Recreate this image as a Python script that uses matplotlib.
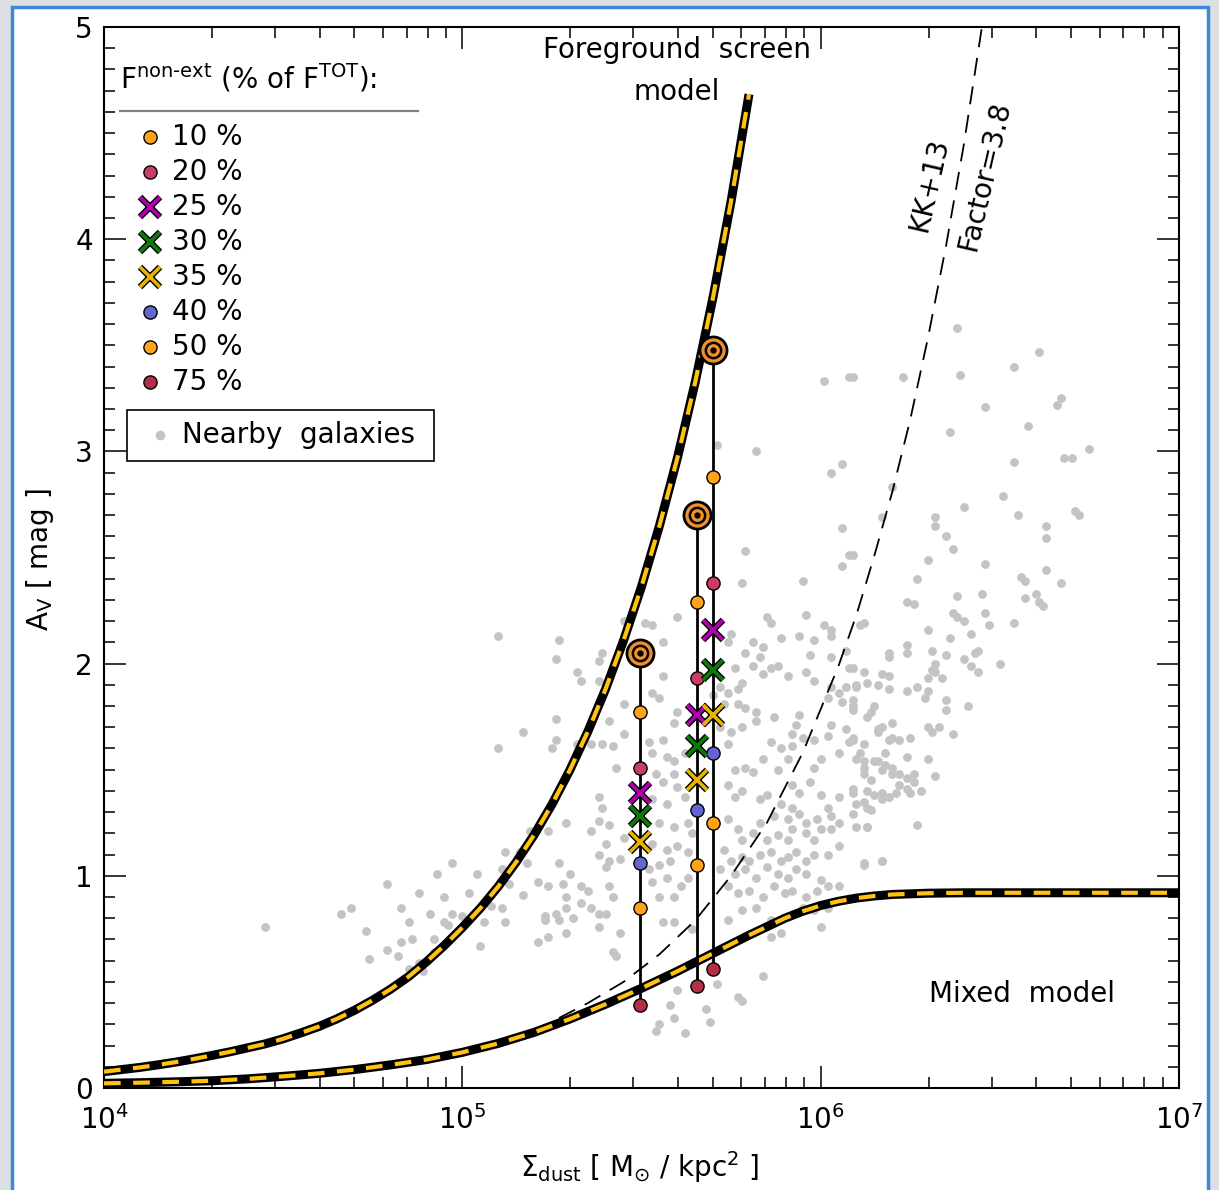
import numpy as np
import matplotlib
matplotlib.use("Agg")
import matplotlib.pyplot as plt
from matplotlib.patches import Rectangle
from matplotlib.ticker import LogLocator, MultipleLocator, NullFormatter

plt.rcParams['font.family'] = ['DejaVu Sans']
plt.rcParams['mathtext.default'] = 'regular'

# model curves, log10(Sigma_dust) vs A_V
screen_logsig = [4.00, 4.05, 4.10, 4.15, 4.20, 4.25, 4.30, 4.35, 4.40, 4.45, 4.50, 4.55,
                 4.60, 4.65, 4.70, 4.75, 4.80, 4.85, 4.90, 4.95, 5.00, 5.05, 5.10, 5.15,
                 5.20, 5.25, 5.30, 5.35, 5.40, 5.45, 5.50, 5.55, 5.60, 5.65, 5.70, 5.75, 5.80]
screen_av = [0.077, 0.087, 0.097, 0.109, 0.122, 0.137, 0.153, 0.170, 0.189, 0.208, 0.232,
             0.260, 0.290, 0.326, 0.367, 0.414, 0.466, 0.525, 0.595, 0.672, 0.756, 0.847,
             0.949, 1.064, 1.192, 1.336, 1.498, 1.679, 1.881, 2.109, 2.363, 2.649, 2.968,
             3.327, 3.729, 4.179, 4.683]

mixed_logsig = [4.0, 4.1, 4.2, 4.3, 4.4, 4.5, 4.6, 4.7, 4.8, 4.9, 5.0, 5.1, 5.2, 5.3, 5.4,
                5.5, 5.6, 5.7, 5.8, 5.9, 5.95, 6.0, 6.05, 6.1, 6.15, 6.2, 6.3, 6.4, 6.6, 7.0]
mixed_av = [0.022, 0.025, 0.029, 0.034, 0.043, 0.055, 0.069, 0.087, 0.109, 0.134, 0.168,
            0.210, 0.262, 0.325, 0.395, 0.470, 0.550, 0.635, 0.720, 0.800, 0.833, 0.860,
            0.880, 0.895, 0.905, 0.912, 0.918, 0.920, 0.920, 0.920]

kk13_logsig = [5.27, 5.35, 5.45, 5.55, 5.65, 5.75, 5.85, 5.95, 6.05, 6.10, 6.15, 6.20,
               6.25, 6.30, 6.35, 6.40, 6.45]
kk13_av = [0.33, 0.40, 0.50, 0.63, 0.79, 1.00, 1.25, 1.58, 1.99, 2.23, 2.51, 2.81,
           3.15, 3.54, 3.97, 4.45, 5.00]

# three sources: foreground screen value and values for each non-extincted fraction
src_logsig = [5.496, 5.655, 5.700]
src_av_screen = [2.05, 2.70, 3.48]
fractions = ['10', '20', '25', '30', '35', '40', '50', '75']
av_f10 = [1.77, 2.29, 2.88]
av_f20 = [1.51, 1.93, 2.38]
av_f25 = [1.39, 1.76, 2.16]
av_f30 = [1.28, 1.61, 1.97]
av_f35 = [1.16, 1.45, 1.76]
av_f40 = [1.06, 1.31, 1.58]
av_f50 = [0.85, 1.05, 1.25]
av_f75 = [0.39, 0.48, 0.56]
av_fracs = [av_f10, av_f20, av_f25, av_f30, av_f35, av_f40, av_f50, av_f75]
frac_markers = ['o', 'o', 'x', 'x', 'x', 'o', 'o', 'o']
frac_colors = ['#ffa31a', '#cc3d66', '#b000b0', '#0a7a0a', '#e6b400', '#6464d2', '#ffa31a', '#b52f48']

# nearby galaxies (log10 Sigma_dust, A_V)
nearby = [
    (5.10, 2.13), (5.27, 2.11), (5.26, 2.02), (5.39, 2.05), (5.38, 2.01), (5.32, 1.96),
    (5.33, 1.92), (5.38, 1.92), (5.45, 1.81), (5.26, 1.74), (5.17, 1.68), (5.41, 1.73),
    (5.45, 1.67), (5.26, 1.64), (5.10, 1.60), (5.25, 1.60), (5.32, 1.62), (5.36, 1.62),
    (5.39, 1.62), (5.42, 1.61), (5.43, 1.51), (5.38, 1.37), (5.39, 1.32), (5.29, 1.25),
    (5.36, 1.21), (5.38, 1.26), (5.41, 1.24), (5.45, 1.18), (5.19, 1.21), (5.24, 1.21),
    (5.40, 1.15), (5.12, 1.11), (5.16, 1.11), (5.38, 1.10), (5.41, 1.07), (5.44, 1.08),
    (4.97, 1.06), (4.93, 1.01), (5.04, 1.01), (5.11, 1.03), (5.18, 1.06), (5.27, 1.06),
    (5.30, 1.01), (5.40, 1.04), (4.79, 0.96), (4.88, 0.92), (4.95, 0.90), (5.02, 0.92),
    (5.13, 0.96), (5.17, 0.91), (5.21, 0.97), (5.24, 0.95), (5.28, 0.96), (5.33, 0.95),
    (5.35, 0.93), (5.41, 0.95), (5.42, 0.90), (5.29, 0.90), (4.69, 0.85), (4.66, 0.82),
    (4.83, 0.85), (4.91, 0.82), (4.97, 0.82), (5.00, 0.81), (5.08, 0.86), (5.11, 0.85),
    (5.23, 0.81), (5.26, 0.82), (5.29, 0.85), (5.33, 0.87), (5.36, 0.85), (5.38, 0.82),
    (5.40, 0.82), (5.31, 0.80), (4.45, 0.76), (4.85, 0.78), (4.95, 0.78), (5.06, 0.78),
    (5.12, 0.78), (5.23, 0.79), (5.27, 0.79), (5.38, 0.76), (4.73, 0.74), (4.96, 0.77),
    (4.83, 0.69), (4.86, 0.70), (4.92, 0.70), (5.05, 0.67), (5.21, 0.69), (5.24, 0.71),
    (5.29, 0.73), (5.44, 0.73), (4.79, 0.65), (4.82, 0.62), (4.92, 0.64), (4.74, 0.61),
    (5.42, 0.64), (5.43, 0.62), (4.88, 0.59), (4.85, 0.56), (4.89, 0.55),
    (5.79, 2.53), (6.08, 2.51), (6.06, 2.46), (5.95, 2.39), (5.78, 2.38), (5.60, 2.22),
    (5.85, 2.22), (5.86, 2.19), (5.96, 2.23), (6.01, 2.18), (6.03, 2.16), (6.11, 2.18),
    (5.51, 2.19), (5.53, 2.18), (5.75, 2.14), (5.81, 2.10), (5.84, 2.08), (5.89, 2.12),
    (5.94, 2.13), (5.98, 2.11), (6.03, 2.13), (6.07, 2.06), (6.19, 2.05), (6.19, 2.03),
    (5.56, 2.10), (5.74, 2.10), (5.79, 2.05), (5.83, 2.03), (5.97, 2.04), (6.03, 2.03),
    (5.76, 1.98), (5.81, 1.99), (5.86, 1.98), (5.88, 1.99), (5.96, 1.96), (5.98, 1.92),
    (5.84, 1.95), (5.91, 1.94), (6.08, 1.98), (6.17, 1.95), (6.19, 1.94), (5.56, 1.94),
    (5.72, 1.89), (5.74, 1.86), (5.77, 1.88), (5.78, 1.91), (5.73, 1.81), (5.77, 1.81),
    (5.79, 1.79), (5.82, 1.77), (5.82, 1.73), (6.03, 1.89), (6.05, 1.86), (6.07, 1.89),
    (6.10, 1.90), (6.13, 1.91), (6.16, 1.90), (6.19, 1.88), (6.02, 1.84), (6.06, 1.82),
    (6.09, 1.80), (6.14, 1.77), (6.15, 1.80), (5.53, 1.86), (5.55, 1.84), (5.60, 1.77),
    (5.59, 1.72), (5.70, 1.85), (5.72, 1.70), (5.75, 1.68), (5.78, 1.70), (5.87, 1.75),
    (5.94, 1.76), (5.93, 1.71), (5.92, 1.67), (5.95, 1.65), (5.86, 1.63), (5.89, 1.60),
    (5.92, 1.61), (5.98, 1.64), (6.02, 1.66), (6.03, 1.71), (6.07, 1.69), (6.09, 1.65),
    (6.16, 1.69), (6.19, 1.64), (6.20, 1.65), (5.52, 1.63), (5.56, 1.64), (5.53, 1.58),
    (5.57, 1.56), (5.59, 1.54), (5.62, 1.58), (5.74, 1.62), (5.76, 1.50), (5.79, 1.51),
    (5.81, 1.49), (5.84, 1.55), (5.88, 1.50), (5.91, 1.55), (5.98, 1.51), (6.00, 1.55),
    (6.05, 1.58), (6.08, 1.63), (6.11, 1.58), (6.12, 1.54), (6.15, 1.54), (6.17, 1.50),
    (6.20, 1.51), (5.54, 1.48), (5.59, 1.48), (5.56, 1.44), (5.60, 1.42), (5.62, 1.37),
    (5.57, 1.34), (5.53, 1.36), (5.74, 1.43), (5.76, 1.37), (5.78, 1.40), (5.83, 1.36),
    (5.85, 1.38), (5.92, 1.43), (5.94, 1.39), (5.97, 1.44), (6.00, 1.38), (6.02, 1.32),
    (6.05, 1.37), (6.09, 1.41), (6.14, 1.45), (6.13, 1.40), (6.17, 1.36), (6.13, 1.32),
    (5.89, 1.34), (5.92, 1.32), (5.87, 1.28), (5.91, 1.27), (5.94, 1.29), (5.96, 1.25),
    (5.99, 1.27), (6.03, 1.28), (6.05, 1.25), (5.55, 1.25), (5.59, 1.23), (5.63, 1.25),
    (5.64, 1.20), (5.74, 1.27), (5.77, 1.22), (5.78, 1.17), (5.81, 1.20), (5.83, 1.25),
    (5.85, 1.17), (5.88, 1.19), (5.91, 1.17), (5.92, 1.22), (5.96, 1.20), (5.98, 1.17),
    (6.00, 1.22), (6.03, 1.22), (6.10, 1.23), (6.13, 1.23), (5.53, 1.15), (5.57, 1.12),
    (5.60, 1.14), (5.63, 1.11), (5.58, 1.07), (5.55, 1.05), (5.52, 1.03), (5.73, 1.12),
    (5.75, 1.07), (5.78, 1.09), (5.80, 1.07), (5.83, 1.10), (5.86, 1.11), (5.89, 1.07),
    (5.91, 1.09), (5.93, 1.11), (5.96, 1.07), (5.98, 1.10), (6.02, 1.10), (6.05, 1.14),
    (6.12, 1.06), (6.17, 1.07), (5.72, 1.03), (5.76, 1.01), (5.79, 1.03), (5.82, 0.99),
    (5.85, 1.04), (5.88, 1.01), (5.91, 0.99), (5.93, 1.03), (5.96, 1.01), (6.00, 0.98),
    (6.02, 0.95), (6.05, 0.95), (5.53, 0.97), (5.57, 0.99), (5.61, 0.95), (5.63, 0.99),
    (5.59, 0.90), (5.55, 0.90), (5.74, 0.95), (5.77, 0.92), (5.80, 0.93), (5.84, 0.90),
    (5.87, 0.95), (5.90, 0.92), (5.92, 0.93), (5.96, 0.90), (5.99, 0.93), (5.95, 0.85),
    (5.98, 0.84), (6.02, 0.85), (5.82, 0.85), (5.78, 0.84), (5.56, 0.78), (5.59, 0.78),
    (5.64, 0.75), (5.74, 0.79), (5.86, 0.79), (5.86, 0.71), (5.89, 0.73), (6.00, 0.76),
    (5.84, 0.53), (5.60, 0.46), (5.71, 0.49), (5.77, 0.43), (5.78, 0.41), (5.58, 0.39),
    (5.68, 0.37), (5.69, 0.31), (5.55, 0.30), (5.54, 0.27), (5.62, 0.26), (5.59, 0.33),
    (6.38, 3.58), (6.61, 3.47), (6.54, 3.40), (6.09, 3.35), (6.23, 3.35), (6.39, 3.36),
    (6.46, 3.21), (6.67, 3.25), (6.66, 3.22), (6.58, 3.12), (6.36, 3.09), (6.75, 3.01),
    (6.68, 2.97), (6.70, 2.97), (6.54, 2.95), (6.20, 2.83), (6.51, 2.79), (6.40, 2.74),
    (6.17, 2.69), (6.32, 2.69), (6.32, 2.65), (6.55, 2.70), (6.71, 2.72), (6.72, 2.70),
    (6.63, 2.65), (6.63, 2.59), (6.35, 2.60), (6.37, 2.54), (6.09, 2.51), (6.30, 2.49),
    (6.46, 2.47), (6.27, 2.40), (6.56, 2.41), (6.57, 2.39), (6.63, 2.44), (6.67, 2.38),
    (6.38, 2.32), (6.45, 2.33), (6.57, 2.31), (6.60, 2.33), (6.61, 2.29), (6.62, 2.27),
    (6.24, 2.29), (6.26, 2.28), (6.37, 2.24), (6.38, 2.22), (6.40, 2.20), (6.46, 2.24),
    (6.47, 2.18), (6.54, 2.19), (6.12, 2.19), (6.30, 2.16), (6.42, 2.14), (6.36, 2.12),
    (6.24, 2.09), (6.24, 2.05), (6.31, 2.06), (6.35, 2.04), (6.43, 2.05), (6.44, 2.06),
    (6.40, 2.02), (6.50, 2.00), (6.32, 2.00), (6.42, 1.99), (6.44, 1.96), (6.09, 1.98),
    (6.12, 1.96), (6.31, 1.97), (6.32, 1.96), (6.30, 1.93), (6.34, 1.93), (6.10, 1.89),
    (6.24, 1.87), (6.27, 1.89), (6.30, 1.87), (6.29, 1.84), (6.35, 1.83), (6.35, 1.78),
    (6.41, 1.80), (6.09, 1.83), (6.09, 1.78), (6.13, 1.75), (6.16, 1.68), (6.17, 1.70),
    (6.20, 1.72), (6.30, 1.70), (6.33, 1.70), (6.31, 1.68), (6.37, 1.67), (6.09, 1.64),
    (6.12, 1.62), (6.22, 1.64), (6.25, 1.65), (6.18, 1.58), (6.16, 1.54), (6.10, 1.55),
    (6.24, 1.56), (6.30, 1.55), (6.12, 1.51), (6.18, 1.52), (6.12, 1.48), (6.20, 1.48),
    (6.22, 1.48), (6.24, 1.46), (6.26, 1.48), (6.32, 1.47), (6.22, 1.43), (6.26, 1.44),
    (6.24, 1.41), (6.09, 1.39), (6.15, 1.38), (6.17, 1.39), (6.21, 1.39), (6.25, 1.39),
    (6.28, 1.40), (6.19, 1.37), (6.10, 1.34), (6.12, 1.35), (6.14, 1.31), (6.09, 1.29),
    (6.13, 1.23), (6.27, 1.24), (6.12, 1.05), (6.17, 1.07),
    (6.01, 3.33), (6.08, 3.35), (5.71, 3.03), (5.82, 3.00), (6.03, 2.90), (6.06, 2.94),
    (6.06, 2.64), (5.45, 2.20),
]

gal_logsig = np.array([p[0] for p in nearby])
gal_av = np.array([p[1] for p in nearby])

fig = plt.figure(figsize=(12.19, 11.90), dpi=100)
fig.patch.set_facecolor('#dde0e3')
panel = Rectangle((12 / 1219, -0.05), 1196 / 1219, 1 - 7 / 1190 + 0.05,
                  transform=fig.transFigure, facecolor='white', edgecolor='#3a88dc',
                  linewidth=2.5, zorder=-10)
fig.add_artist(panel)

ax = fig.add_axes([104 / 1219, 102 / 1190, 1075 / 1219, 1061 / 1190])
ax.set_xscale('log')
ax.set_xlim(1e4, 1e7)
ax.set_ylim(0, 5)

ax.scatter(10 ** gal_logsig, gal_av, s=40, color='#c4c4c4', linewidths=0, zorder=1)

ax.plot(10 ** np.array(kk13_logsig), kk13_av, color='black', lw=1.3,
        linestyle=(0, (10, 6)), zorder=2)

for xs, ys in [(screen_logsig, screen_av), (mixed_logsig, mixed_av)]:
    ax.plot(10 ** np.array(xs), ys, color='black', lw=6.5, solid_capstyle='butt',
            solid_joinstyle='round', zorder=3)
    ax.plot(10 ** np.array(xs), ys, color='#ffc20e', lw=3, linestyle=(0, (4, 3)), zorder=4)

# the three sources
for i, lx in enumerate(src_logsig):
    sx = 10 ** lx
    ax.plot([sx, sx], [av_f75[i], src_av_screen[i]], color='black', lw=2, zorder=5)
    for av, m, c in zip(av_fracs, frac_markers, frac_colors):
        if m == 'o':
            ax.plot(sx, av[i], 'o', ms=9.5, mfc=c, mec='black', mew=1, zorder=6)
        else:
            ax.plot(sx, av[i], 'x', ms=15, mec='black', mew=4.6, zorder=6)
            ax.plot(sx, av[i], 'x', ms=14, mec=c, mew=2.6, zorder=7)
    ax.plot(sx, src_av_screen[i], 'o', ms=19.5, mfc='#f0902a', mec='black', mew=2, zorder=8)
    ax.plot(sx, src_av_screen[i], 'o', ms=11, mfc='none', mec='black', mew=1.8, zorder=9)
    ax.plot(sx, src_av_screen[i], 'o', ms=3.5, mfc='black', mec='black', zorder=9)

# legend block drawn by hand
tr = ax.transAxes
ax.text(0.0149, 0.9416, 'F$^{\\rm non\u2010ext}$ (% of F$^{\\rm TOT}$):', transform=tr,
        fontsize=20, va='baseline', ha='left')
ax.plot([0.0149, 0.2921], [0.9208, 0.9208], color='#808080', lw=1.6, transform=tr,
        clip_on=False)
row_y = [0.8963, 0.8633, 0.8303, 0.7973, 0.7644, 0.7314, 0.6984, 0.6654]
for ry, f, m, c in zip(row_y, fractions, frac_markers, frac_colors):
    if m == 'o':
        ax.plot(0.0428, ry, 'o', ms=9.5, mfc=c, mec='black', mew=1, transform=tr)
    else:
        ax.plot(0.0428, ry, 'x', ms=15, mec='black', mew=4.6, transform=tr)
        ax.plot(0.0428, ry, 'x', ms=14, mec=c, mew=2.6, transform=tr)
    ax.text(0.0633, ry, f + ' %', transform=tr, fontsize=20, va='center', ha='left')

ax.add_patch(Rectangle((0.0214, 0.591), 0.2856, 0.048, transform=tr, facecolor='white',
                       edgecolor='black', lw=1.2, zorder=10))
ax.plot(0.0521, 0.6154, 'o', ms=7, mfc='#c4c4c4', mec='none', transform=tr, zorder=11)
ax.text(0.0726, 0.6154, 'Nearby  galaxies', transform=tr, fontsize=20, va='center',
        ha='left', zorder=11)

ax.text(0.533, 0.978, 'Foreground  screen', transform=tr, fontsize=20, ha='center', va='center')
ax.text(0.533, 0.939, 'model', transform=tr, fontsize=20, ha='center', va='center')
ax.text(0.854, 0.0886, 'Mixed  model', transform=tr, fontsize=20, ha='center', va='center')
ax.text(0.768, 0.851, 'KK+13', transform=tr, fontsize=20, ha='center', va='center',
        rotation=77)
ax.text(0.8195, 0.8596, 'Factor=3.8', transform=tr, fontsize=20, ha='center', va='center',
        rotation=77)

# axes, ticks, labels
ax.xaxis.set_major_locator(LogLocator(base=10, numticks=10))
ax.xaxis.set_minor_locator(LogLocator(base=10, subs=np.arange(2, 10), numticks=20))
ax.xaxis.set_minor_formatter(NullFormatter())
ax.yaxis.set_major_locator(MultipleLocator(1))
ax.yaxis.set_minor_locator(MultipleLocator(0.1))
ax.tick_params(which='both', direction='in', top=True, right=True, width=1.1)
ax.tick_params(which='major', length=16, labelsize=20)
ax.tick_params(which='minor', length=8)
ax.tick_params(axis='x', which='major', pad=12)
ax.tick_params(axis='y', which='major', pad=8)
for sp in ax.spines.values():
    sp.set_linewidth(1.5)

ax.set_xlabel(r'$\Sigma_{\rm dust}$ [ M$_{\odot}$ / kpc$^{2}$ ]', fontsize=20)
ax.set_ylabel(r'A$_{\rm V}$ [ mag ]', fontsize=20)
ax.xaxis.set_label_coords(0.4986, -0.058)
ax.yaxis.set_label_coords(-0.045, 0.4977)

fig.savefig('out.png', dpi=100, facecolor=fig.get_facecolor())
